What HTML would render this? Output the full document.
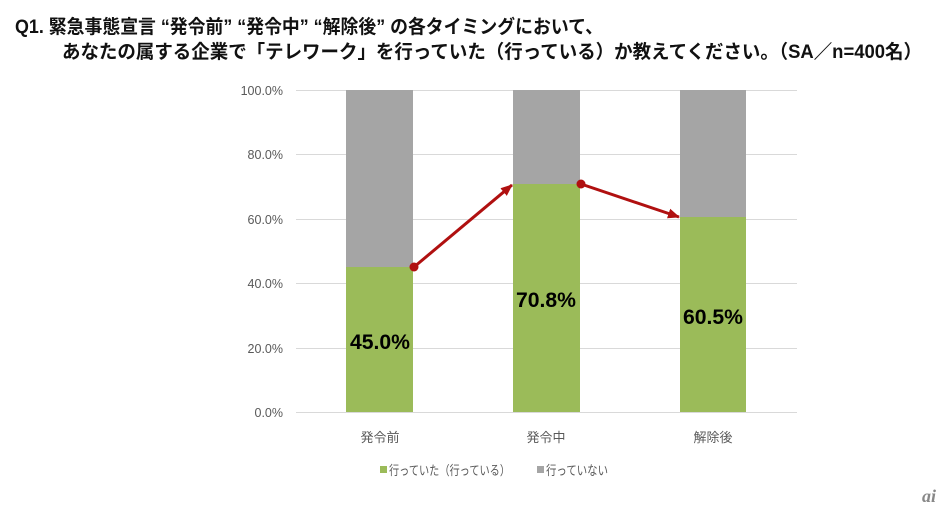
<!DOCTYPE html>
<html><head><meta charset="utf-8"><style>
html,body{margin:0;padding:0;background:#fff;}
svg{display:block;}
</style></head><body>
<svg width="949" height="513" viewBox="0 0 949 513" xmlns="http://www.w3.org/2000/svg">
<defs>
<marker id="ah" markerWidth="14" markerHeight="14" refX="11" refY="6" orient="auto" markerUnits="userSpaceOnUse">
<path d="M0,1 L12,6 L0,11 Z" fill="#b01010"/>
</marker>
</defs>
<g font-family="'Liberation Sans','Noto Sans CJK JP',sans-serif" font-weight="bold" font-size="19" fill="#111">
<text x="15" y="33" textLength="588" lengthAdjust="spacingAndGlyphs">Q1. 緊急事態宣言 “発令前” “発令中” “解除後” の各タイミングにおいて、</text>
<text x="62" y="58" textLength="860" lengthAdjust="spacingAndGlyphs">あなたの属する企業で「テレワーク」を行っていた（行っている）か教えてください。（SA／n=400名）</text>
</g>
<g stroke="#d9d9d9" stroke-width="1">
<line x1="296" y1="90.5" x2="797" y2="90.5"/>
<line x1="296" y1="154.5" x2="797" y2="154.5"/>
<line x1="296" y1="219.5" x2="797" y2="219.5"/>
<line x1="296" y1="283.5" x2="797" y2="283.5"/>
<line x1="296" y1="348.5" x2="797" y2="348.5"/>
<line x1="296" y1="412.5" x2="797" y2="412.5"/>
</g>
<g font-family="'Liberation Sans',sans-serif" font-size="12.5" fill="#595959" text-anchor="end">
<text x="283" y="95">100.0%</text>
<text x="283" y="159">80.0%</text>
<text x="283" y="224">60.0%</text>
<text x="283" y="288">40.0%</text>
<text x="283" y="353">20.0%</text>
<text x="283" y="417">0.0%</text>
</g>
<rect x="346" y="90" width="67" height="177" fill="#a5a5a5"/>
<rect x="346" y="267" width="67" height="145" fill="#9bbb59"/>
<rect x="513" y="90" width="67" height="94" fill="#a5a5a5"/>
<rect x="513" y="184" width="67" height="228" fill="#9bbb59"/>
<rect x="680" y="90" width="66" height="127" fill="#a5a5a5"/>
<rect x="680" y="217" width="66" height="195" fill="#9bbb59"/>
<g stroke="#b01010" stroke-width="3" fill="none">
<line x1="414" y1="267" x2="512" y2="185" marker-end="url(#ah)"/>
<line x1="581" y1="184" x2="679" y2="217" marker-end="url(#ah)"/>
</g>
<circle cx="414" cy="267" r="4.5" fill="#b01010"/>
<circle cx="581" cy="184" r="4.5" fill="#b01010"/>
<g font-family="'Liberation Sans',sans-serif" font-weight="bold" font-size="21" fill="#000" text-anchor="middle">
<text x="380" y="349" textLength="60" lengthAdjust="spacingAndGlyphs">45.0%</text>
<text x="546" y="307" textLength="60" lengthAdjust="spacingAndGlyphs">70.8%</text>
<text x="713" y="324" textLength="60" lengthAdjust="spacingAndGlyphs">60.5%</text>
</g>
<g font-family="'Liberation Sans','Noto Sans CJK JP',sans-serif" font-size="13" fill="#595959" text-anchor="middle">
<text x="380" y="442">発令前</text>
<text x="546" y="442">発令中</text>
<text x="713" y="442">解除後</text>
</g>
<rect x="380" y="466" width="7" height="7" fill="#9bbb59"/>
<rect x="537" y="466" width="7" height="7" fill="#a5a5a5"/>
<g font-family="'Liberation Sans','Noto Sans CJK JP',sans-serif" font-size="13" fill="#595959">
<text x="389" y="475" textLength="121" lengthAdjust="spacingAndGlyphs">行っていた（行っている）</text>
<text x="546" y="475" textLength="62" lengthAdjust="spacingAndGlyphs">行っていない</text>
</g>
<text x="922" y="502" font-family="'Liberation Serif',serif" font-style="italic" font-weight="bold" font-size="18" fill="#888">ai</text>
</svg>
</body></html>
